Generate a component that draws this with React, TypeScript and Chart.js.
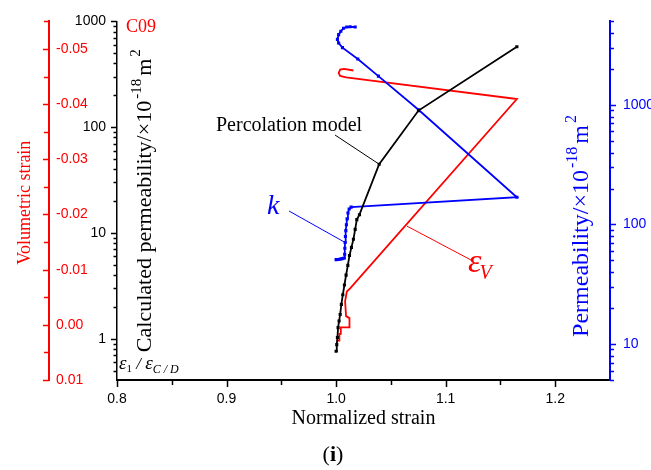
import React, { useEffect, useRef } from 'react';
import { Chart, registerables } from 'chart.js';

Chart.register(...registerables);

// ---------- data ----------
const percStrain = [1.0, 1.0006, 1.0012, 1.0018, 1.0027, 1.0037, 1.0048, 1.0061, 1.0076, 1.0091, 1.0107, 1.0122, 1.014, 1.0158, 1.0174, 1.0189, 1.0213, 1.0393, 1.0752, 1.165];
const percK = [0.762, 0.88, 1.028, 1.273, 1.47, 1.696, 2.113, 2.601, 3.221, 3.989, 4.938, 6.116, 7.304, 8.721, 10.8, 13.37, 14.88, 44.67, 143.5, 576];

const kStrain = [1.0, 1.0018, 1.0037, 1.0055, 1.0073, 1.0078, 1.008, 1.0082, 1.0085, 1.0089, 1.0094, 1.01, 1.0108, 1.0119, 1.0137, 1.165, 1.0752, 1.0386, 1.0198, 1.0058, 1.0023, 1.0012, 1.0023, 1.0043, 1.0068, 1.0098, 1.0128, 1.0174];
const kValues = [50.8, 51.0, 51.3, 51.8, 52.3, 56.4, 63.2, 70.7, 79.3, 88.8, 99.5, 111.4, 124.8, 134.7, 139.8, 169, 911, 1743, 2423, 3017, 3298, 3537, 3873, 4139, 4380, 4490, 4507, 4490];

const evStrain = [1.0006, 1.003, 1.003, 1.0043, 1.0043, 1.0122, 1.0122, 1.0091, 1.0082, 1.0098, 1.0128, 1.165, 1.0091, 1.0037, 1.0023, 1.0037, 1.0073, 1.0158];
const evValues = [0.00288, 0.00288, 0.00163, 0.00163, 0.00047, 0.00047, -0.00122, -0.00158, -0.00425, -0.00603, -0.00662, -0.04093, -0.04485, -0.04512, -0.04565, -0.04627, -0.0464, -0.0461];

const xTicks = [0.8, 0.9, 1.0, 1.1, 1.2];
const xMinorTicks = [0.85, 0.95, 1.05, 1.15];
const kCalcTicks = [1, 10, 100, 1000];
const evTicks = [-0.05, -0.04, -0.03, -0.02, -0.01, 0.0, 0.01];
const evMinorTicks = [-0.055, -0.045, -0.035, -0.025, -0.015, -0.005, 0.005];
const kMeasTicks = [10, 100, 1000];

// ---------- styles ----------
const SERIF = '"Liberation Serif", "Times New Roman", serif';
const SANS = '"Liberation Sans", Arial, sans-serif';
const RED = '#ff0000';
const BLUE = '#0000ff';

function logMinors(min: number, max: number) {
  const out: number[] = [];
  for (let e = Math.floor(Math.log10(min)); e <= Math.ceil(Math.log10(max)); e++) {
    for (let m = 2; m <= 9; m++) {
      const v = m * Math.pow(10, e);
      if (v >= min * 0.999 && v <= max * 1.001) out.push(v);
    }
  }
  return out;
}

type Run = { t: string; size: number; italic?: boolean; bold?: boolean; dy?: number; dx?: number };

function fontOf(r: Run) {
  return `${r.italic ? 'italic ' : ''}${r.bold ? 'bold ' : ''}${r.size}px ${SERIF}`;
}
function runsWidth(ctx: CanvasRenderingContext2D, runs: Run[]) {
  let w = 0;
  for (const r of runs) {
    ctx.font = fontOf(r);
    w += (r.dx || 0) + ctx.measureText(r.t).width;
  }
  return w;
}
function drawRuns(ctx: CanvasRenderingContext2D, runs: Run[], x: number, y: number, rot: number, color: string, center: boolean) {
  ctx.save();
  ctx.translate(x, y);
  ctx.rotate(rot);
  ctx.fillStyle = color;
  ctx.textBaseline = 'alphabetic';
  ctx.textAlign = 'left';
  let cx = center ? -runsWidth(ctx, runs) / 2 : 0;
  for (const r of runs) {
    ctx.font = fontOf(r);
    cx += r.dx || 0;
    ctx.fillText(r.t, cx, r.dy || 0);
    cx += ctx.measureText(r.t).width;
  }
  ctx.restore();
}

function line(ctx: CanvasRenderingContext2D, x1: number, y1: number, x2: number, y2: number, color: string, w: number) {
  ctx.save();
  ctx.strokeStyle = color;
  ctx.lineWidth = w;
  ctx.beginPath();
  ctx.moveTo(x1, y1);
  ctx.lineTo(x2, y2);
  ctx.stroke();
  ctx.restore();
}

function permRuns(size: number, first: string): Run[] {
  const sup = Math.round(size * 0.68);
  return [
    { t: first, size },
    { t: '-18', size: sup, dy: -size * 0.45, dx: 2 },
    { t: 'm', size, dx: 3 },
    { t: '2', size: sup, dy: -size * 0.5, dx: 2 },
  ];
}

const annotPlugin = {
  id: 'annot',
  afterDraw(chart: any) {
    const ctx: CanvasRenderingContext2D = chart.ctx;
    const { x, yK, yV, yB } = chart.scales;
    const area = chart.chartArea;

    // ---- tick marks ----
    const yTicks = (scale: any, vals: number[], len: number, side: 'left' | 'right', color: string) => {
      const x0 = side === 'left' ? scale.right : scale.left;
      for (const v of vals) {
        const py = Math.round(scale.getPixelForValue(v)) + 0.5;
        line(ctx, x0, py, side === 'left' ? x0 - len : x0 + len, py, color, 1.5);
      }
    };
    yTicks(yK, kCalcTicks, 6, 'left', '#000');
    yTicks(yK, logMinors(yK.min, yK.max), 3.5, 'left', '#000');
    yTicks(yV, evTicks, 6, 'left', RED);
    yTicks(yV, evMinorTicks, 5, 'left', RED);
    yTicks(yB, kMeasTicks, 6, 'right', BLUE);
    yTicks(yB, logMinors(yB.min, yB.max), 4, 'right', BLUE);
    for (const v of xTicks) {
      const px = Math.round(x.getPixelForValue(v)) + 0.5;
      line(ctx, px, area.bottom, px, area.bottom + 7, '#000', 1.5);
    }
    for (const v of xMinorTicks) {
      const px = Math.round(x.getPixelForValue(v)) + 0.5;
      line(ctx, px, area.bottom, px, area.bottom + 5, '#000', 1.5);
    }

    // ---- axis titles ----
    const midY = (area.top + area.bottom) / 2;
    drawRuns(ctx, [{ t: 'Volumetric strain', size: 18 }], 30, midY + 2, -Math.PI / 2, RED, true);
    drawRuns(ctx, permRuns(22, 'Calculated permeability/×10'), 151, midY, -Math.PI / 2, '#000', true);
    drawRuns(ctx, permRuns(24, 'Permeability/×10'), 588, 226, -Math.PI / 2, BLUE, true);
    drawRuns(ctx, [{ t: 'Normalized strain', size: 20 }], (area.left + area.right) / 2, 424, 0, '#000', true);
    drawRuns(ctx, [{ t: '(', size: 22 }, { t: 'i', size: 22, bold: true }, { t: ')', size: 22 }], 333, 461, 0, '#000', true);
    drawRuns(ctx, [{ t: 'C09', size: 18 }], area.left + 9, area.top + 11, 0, RED, false);

    // ---- bottom-left strain ratio label ----
    drawRuns(ctx, [
      { t: 'ε', size: 19, italic: true },
      { t: '1', size: 11, dy: 3 },
      { t: ' / ', size: 17, italic: true },
      { t: 'ε', size: 19, italic: true },
      { t: 'C / D', size: 12, italic: true, dy: 4 },
    ], area.left + 2, area.bottom - 11, 0, '#000', false);

    // ---- annotations ----
    const pPx = x.getPixelForValue(percStrain[17]);
    const pPy = yK.getPixelForValue(percK[17]);
    drawRuns(ctx, [{ t: 'Percolation model', size: 20 }], 216, 131, 0, '#000', false);
    line(ctx, 335, 135, pPx, pPy, '#000', 1);

    const kPx = x.getPixelForValue(kStrain[7]);
    const kPy = yB.getPixelForValue(kValues[7]);
    drawRuns(ctx, [{ t: 'k', size: 28, italic: true }], 267, 214, 0, BLUE, false);
    line(ctx, 289, 211, kPx, kPy, BLUE, 1);

    const eTx = x.getPixelForValue(1.0646);
    const eTy = yV.getPixelForValue(-0.0179);
    line(ctx, eTx, eTy, 471, 260, RED, 1);
    drawRuns(ctx, [
      { t: 'ε', size: 34, italic: true },
      { t: 'V', size: 20, italic: true, dy: 7, dx: -2 },
    ], 468, 272, 0, RED, false);
  },
};

export default function App() {
  const ref = useRef<HTMLCanvasElement>(null);
  useEffect(() => {
    document.body.style.margin = '0';
    const canvas = ref.current!;
    const tickFont = { family: SANS, size: 14 };
    const chart = new Chart(canvas, {
      type: 'scatter',
      data: {
        datasets: [
          {
            label: 'Percolation model',
            data: percStrain.map((v, i) => ({ x: v, y: percK[i] })),
            xAxisID: 'x',
            yAxisID: 'yK',
            showLine: true,
            borderColor: '#000',
            backgroundColor: '#000',
            borderWidth: 1.8,
            pointStyle: 'rect',
            pointRadius: 2.2,
            pointBorderWidth: 0,
          },
          {
            label: 'k',
            data: kStrain.map((v, i) => ({ x: v, y: kValues[i] })),
            xAxisID: 'x',
            yAxisID: 'yB',
            showLine: true,
            borderColor: BLUE,
            backgroundColor: BLUE,
            borderWidth: 1.8,
            pointStyle: 'rect',
            pointRadius: 2.2,
            pointBorderWidth: 0,
          },
          {
            label: 'εV',
            data: evStrain.map((v, i) => ({ x: v, y: evValues[i] })),
            xAxisID: 'x',
            yAxisID: 'yV',
            showLine: true,
            borderColor: RED,
            backgroundColor: RED,
            borderWidth: 1.8,
            pointRadius: 0,
          },
        ],
      },
      options: {
        responsive: false,
        animation: false,
        events: [],
        layout: { padding: { top: 15, left: 0, right: 0, bottom: 0 } },
        plugins: { legend: { display: false }, tooltip: { enabled: false } },
        scales: {
          x: {
            type: 'linear',
            axis: 'x',
            position: 'bottom',
            min: 0.8,
            max: 1.25,
            afterBuildTicks: (s: any) => { s.ticks = xTicks.map((v) => ({ value: v })); },
            afterFit: (s: any) => { s.height = 90; },
            ticks: { callback: (v: any) => Number(v).toFixed(1), font: tickFont, color: '#000', padding: 11, autoSkip: false, maxRotation: 0 },
            grid: { display: false, drawTicks: false },
            border: { display: true, color: '#000', width: 2 },
          },
          yK: {
            type: 'logarithmic',
            axis: 'y',
            position: 'left',
            weight: 0,
            min: 0.407,
            max: 1000,
            afterBuildTicks: (s: any) => { s.ticks = kCalcTicks.map((v) => ({ value: v })); },
            afterFit: (s: any) => { s.width = 68; },
            ticks: { callback: (v: any) => String(v), font: tickFont, color: '#000', padding: 11, autoSkip: false },
            grid: { display: false, drawTicks: false },
            border: { display: true, color: '#000', width: 1.5 },
          },
          yV: {
            type: 'linear',
            axis: 'y',
            position: 'left',
            weight: 10,
            min: -0.055,
            max: 0.01,
            reverse: true,
            afterBuildTicks: (s: any) => { s.ticks = evTicks.map((v) => ({ value: v })); },
            afterFit: (s: any) => { s.width = 49; },
            ticks: { callback: (v: any) => Number(v).toFixed(2), font: tickFont, color: RED, padding: 7, mirror: true, autoSkip: false },
            grid: { display: false, drawTicks: false },
            border: { display: true, color: RED, width: 2 },
          },
          yB: {
            type: 'logarithmic',
            axis: 'y',
            position: 'right',
            min: 5,
            max: 5000,
            afterBuildTicks: (s: any) => { s.ticks = kMeasTicks.map((v) => ({ value: v })); },
            afterFit: (s: any) => { s.width = 41; },
            ticks: { callback: (v: any) => String(v), font: tickFont, color: BLUE, padding: 13, autoSkip: false },
            grid: { display: false, drawTicks: false },
            border: { display: true, color: BLUE, width: 2 },
          },
        },
      } as any,
      plugins: [annotPlugin],
    });
    return () => chart.destroy();
  }, []);
  return (
    <div style={{ position: 'absolute', left: 0, top: 0, width: 651, height: 470, background: '#fff' }}>
      <canvas ref={ref} width={651} height={470} style={{ display: 'block', width: 651, height: 470 }} />
    </div>
  );
}
